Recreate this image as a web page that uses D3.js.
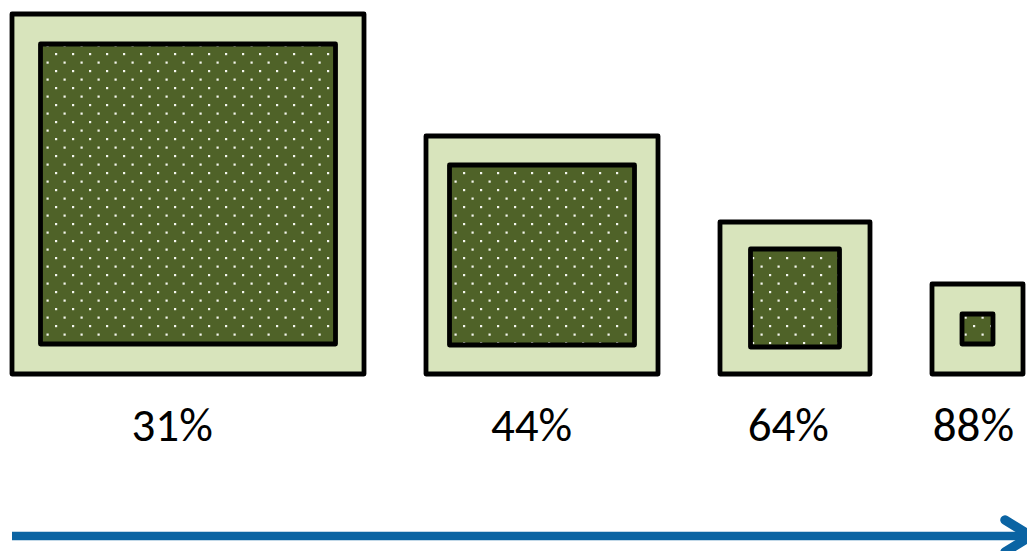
<!doctype html>
<html>
  <head>
    <meta charset="utf-8">
    <title>Squares</title>
    <style>
      body { margin: 0; background: #fff; }
      text { font-family: Calibri, Carlito, "Open Sans", sans-serif; }
    </style>
    <script src="https://cdnjs.cloudflare.com/ajax/libs/d3/7.8.5/d3.min.js"></script>
  </head>
  <body>
    <div id="chart"></div>
    <script>
      // values
      const labels = ["31%", "44%", "64%", "88%"];
      const outerW = [352, 232, 150, 91];
      const outerH = [360, 238, 152, 90];
      const innerW = [295, 185, 89, 31];
      const innerH = [300, 180, 98, 30];

      const width = 1027, height = 551;
      const gap = 62, left = 12, baseY = 374;

      const size = d3.scaleLinear().domain([0, 360]).range([0, 360]);

      const data = labels.map((label, i) => ({
        label, ow: outerW[i], oh: outerH[i], iw: innerW[i], ih: innerH[i]
      }));
      let cx = left;
      data.forEach(d => {
        d.x = cx;
        cx += size(d.ow) + gap;
      });

      const svg = d3.select('#chart').append('svg')
        .attr('width', width)
        .attr('height', height);

      const defs = svg.append('defs');
      const pat = defs.append('pattern')
        .attr('id', 'dots')
        .attr('patternUnits', 'userSpaceOnUse')
        .attr('x', 4).attr('y', 2)
        .attr('width', 17).attr('height', 17);
      pat.append('rect').attr('width', 17).attr('height', 17).attr('fill', '#4f6228');
      pat.append('rect').attr('x', 0).attr('y', 0).attr('width', 2.2).attr('height', 2.2).attr('fill', '#f4f6ee');
      pat.append('rect').attr('x', 8.5).attr('y', 8.5).attr('width', 2.2).attr('height', 2.2).attr('fill', '#f4f6ee');

      const g = svg.selectAll('g.item')
        .data(data)
        .enter()
        .append('g')
        .attr('class', 'item');

      g.append('rect')
        .attr('x', d => d.x)
        .attr('y', d => baseY - size(d.oh))
        .attr('width', d => size(d.ow))
        .attr('height', d => size(d.oh))
        .attr('fill', '#d8e4bc')
        .attr('stroke', '#000')
        .attr('stroke-width', 4.8)
        .attr('stroke-linejoin', 'round');

      g.append('rect')
        .attr('x', d => d.x + (size(d.ow) - size(d.iw)) / 2)
        .attr('y', d => baseY - size(d.oh) / 2 - size(d.ih) / 2)
        .attr('width', d => size(d.iw))
        .attr('height', d => size(d.ih))
        .attr('fill', 'url(#dots)')
        .attr('stroke', '#000')
        .attr('stroke-width', 4.8)
        .attr('stroke-linejoin', 'round');

      g.append('text')
        .attr('x', d => d.x + size(d.ow) / 2 - 0.045 * size(d.ow))
        .attr('y', 441)
        .attr('text-anchor', 'middle')
        .attr('font-size', 47)
        .attr('fill', '#000')
        .text(d => d.label);

      // arrow along the bottom
      const arrow = svg.append('g')
        .attr('stroke', '#0b64a3')
        .attr('stroke-width', 8.5)
        .attr('fill', 'none');
      arrow.append('line')
        .attr('x1', 12).attr('x2', 1030)
        .attr('y1', 536).attr('y2', 536);
      arrow.append('polyline')
        .attr('points', '1005,520 1031,536 1005,552')
        .attr('stroke-width', 9.5)
        .attr('stroke-linecap', 'round')
        .attr('stroke-linejoin', 'round');
    </script>
  </body>
</html>
